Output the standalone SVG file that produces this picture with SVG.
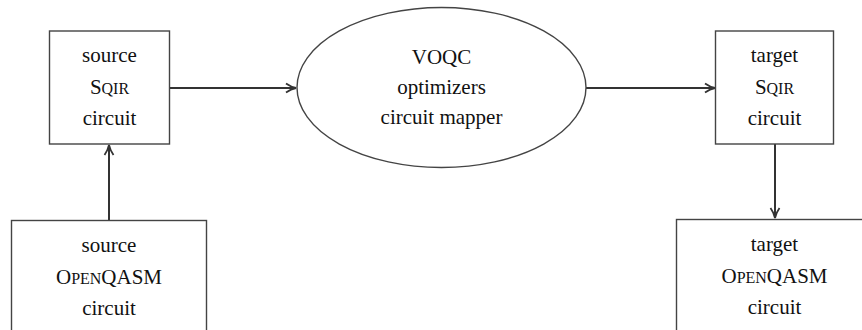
<svg xmlns="http://www.w3.org/2000/svg" width="862" height="330" viewBox="0 0 862 330">
<style>
.box{fill:#fff;stroke:#444;stroke-width:1.4}
.t{font-family:'Liberation Serif','Times New Roman','DejaVu Serif',serif;font-size:21px;fill:#111;text-anchor:middle}
.sc{font-size:16px}
.edge{fill:none;stroke:#333;stroke-width:2}
</style>
<defs>
<marker id="arr" viewBox="0 0 12 12" refX="11" refY="6" markerWidth="12" markerHeight="12" markerUnits="userSpaceOnUse" orient="auto">
<path d="M1,1.5 Q6,5 11,6 Q6,7 1,10.5" fill="none" stroke="#333" stroke-width="1.8"/>
</marker>
</defs>
<g id="connectors">
<path class="edge" d="M169,88 L296,88" marker-end="url(#arr)"/>
<path class="edge" d="M586,88 L715,88" marker-end="url(#arr)"/>
<path class="edge" d="M109,220 L109,145" marker-end="url(#arr)"/>
<path class="edge" d="M775,144 L775,218" marker-end="url(#arr)"/>
</g>
<g id="source-sqir">
<rect class="box" x="49.5" y="31" width="120" height="113"/>
<text class="t" x="109.5" y="62">source</text>
<text class="t" x="109.5" y="94">S<tspan class="sc">QIR</tspan></text>
<text class="t" x="109.5" y="125">circuit</text>
</g>
<g id="voqc">
<ellipse class="box" cx="441.5" cy="87.5" rx="144.5" ry="80"/>
<text class="t" x="441.5" y="64">VOQC</text>
<text class="t" x="441.5" y="94">optimizers</text>
<text class="t" x="441.5" y="124">circuit mapper</text>
</g>
<g id="target-sqir">
<rect class="box" x="715.5" y="31" width="118" height="113"/>
<text class="t" x="774.5" y="62">target</text>
<text class="t" x="774.5" y="94">S<tspan class="sc">QIR</tspan></text>
<text class="t" x="774.5" y="125">circuit</text>
</g>
<g id="source-openqasm">
<rect class="box" x="11.5" y="220.5" width="195" height="120"/>
<text class="t" x="109" y="252">source</text>
<text class="t" x="109" y="284">O<tspan class="sc">PEN</tspan>QASM</text>
<text class="t" x="109" y="315">circuit</text>
</g>
<g id="target-openqasm">
<rect class="box" x="676.5" y="219.5" width="196" height="120"/>
<text class="t" x="774.5" y="251">target</text>
<text class="t" x="774.5" y="283">O<tspan class="sc">PEN</tspan>QASM</text>
<text class="t" x="774.5" y="314">circuit</text>
</g>
</svg>
